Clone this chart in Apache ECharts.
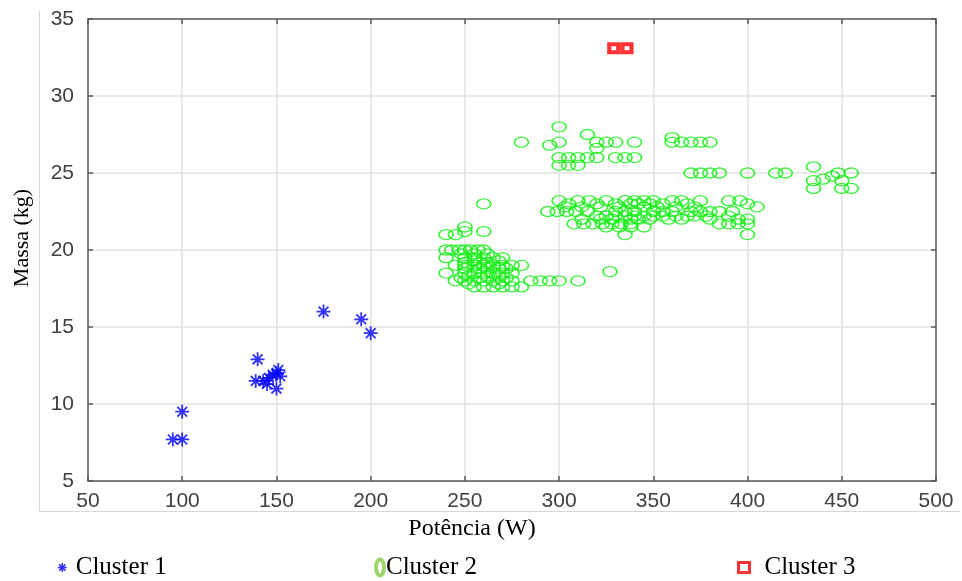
<!DOCTYPE html>
<html>
<head>
<meta charset="utf-8">
<script src="https://cdn.jsdelivr.net/npm/echarts@6/dist/echarts.min.js"></script>
<style>
  html, body { margin: 0; padding: 0; background: #fff; }
  #chart { width: 962px; height: 581px; }
</style>
</head>
<body>
<div id="chart"></div>
<script>
// Axis ticks
const xTicks = { min: 50, max: 500, interval: 50 }
const yTicks = { min: 5, max: 35, interval: 5 }

// Cluster 1 (blue asterisks)
const powerC1 = [95, 100, 100, 139, 143, 145, 146, 148, 150, 150, 151, 152, 140, 175, 195, 200]
const massC1 = [7.7, 7.7, 9.5, 11.5, 11.5, 11.3, 11.7, 11.9, 12.0, 11.0, 12.2, 11.8, 12.9, 16.0, 15.5, 14.6]

// Cluster 2 (green ellipses), [power, mass]
const cluster2Points = [
  // lower group
  [250, 21.5], [250, 21.2], [260, 21.2], [240, 21.0], [245, 21.0], [260, 23.0],
  [240, 20.0], [243, 20.0], [247, 20.0], [250, 20.0], [253, 20.0], [257, 20.0], [260, 20.0],
  [248, 19.75], [255, 19.75], [262, 19.75],
  [240, 19.5], [250, 19.5], [255, 19.5], [260, 19.5], [265, 19.5], [270, 19.5],
  [255, 19.3], [268, 19.3],
  [250, 19.2], [258, 19.2], [262, 19.2],
  [245, 19.0], [250, 19.0], [255, 19.0], [260, 19.0], [265, 19.0], [270, 19.0], [275, 19.0], [280, 19.0],
  [250, 18.8], [258, 18.8], [262, 18.8], [268, 18.8], [272, 18.8],
  [240, 18.5], [250, 18.5], [255, 18.5], [260, 18.5], [265, 18.5], [270, 18.5], [275, 18.5],
  [252, 18.3], [262, 18.3], [268, 18.3],
  [248, 18.2], [258, 18.2], [272, 18.2],
  [245, 18.0], [250, 18.0], [255, 18.0], [260, 18.0], [265, 18.0], [270, 18.0], [275, 18.0],
  [285, 18.0], [290, 18.0], [295, 18.0], [300, 18.0], [310, 18.0],
  [252, 17.8], [268, 17.8],
  [255, 17.6], [260, 17.6], [265, 17.6], [270, 17.6], [275, 17.6], [280, 17.6],
  [327, 18.6],
  // middle band
  [300, 23.2], [310, 23.2], [316, 23.2], [325, 23.2], [335, 23.2], [340, 23.2], [345, 23.2],
  [350, 23.2], [360, 23.2], [365, 23.2], [375, 23.2], [390, 23.2], [396, 23.2],
  [305, 23.0], [320, 23.0], [330, 23.0], [338, 23.0], [342, 23.0], [348, 23.0], [355, 23.0], [368, 23.0], [400, 23.0],
  [303, 22.8], [312, 22.8], [322, 22.8], [332, 22.8], [345, 22.8], [352, 22.8], [362, 22.8], [372, 22.8], [405, 22.8],
  [294, 22.5], [299, 22.5], [304, 22.5], [309, 22.5], [315, 22.5], [330, 22.5], [335, 22.5], [340, 22.5],
  [350, 22.5], [355, 22.5], [360, 22.5], [370, 22.5], [375, 22.5], [380, 22.5], [385, 22.5], [392, 22.5],
  [320, 22.2], [325, 22.2], [330, 22.2], [335, 22.2], [340, 22.2], [345, 22.2], [350, 22.2],
  [355, 22.2], [362, 22.2], [368, 22.2], [372, 22.2], [378, 22.2], [390, 22.2],
  [312, 22.0], [322, 22.0], [328, 22.0], [338, 22.0], [342, 22.0], [348, 22.0], [358, 22.0],
  [365, 22.0], [380, 22.0], [395, 22.0], [400, 22.0],
  [308, 21.7], [313, 21.7], [318, 21.7], [323, 21.7], [328, 21.7], [333, 21.7], [338, 21.7],
  [385, 21.7], [390, 21.7], [395, 21.7], [400, 21.7],
  [325, 21.5], [332, 21.5], [338, 21.5], [345, 21.5],
  [335, 21.0], [400, 21.0],
  // upper group
  [300, 28.0], [280, 27.0], [295, 26.8], [300, 27.0], [315, 27.5], [320, 27.0], [325, 27.0],
  [330, 27.0], [340, 27.0], [320, 26.6],
  [300, 26.0], [305, 26.0], [310, 26.0], [315, 26.0], [320, 26.0], [330, 26.0], [335, 26.0], [340, 26.0],
  [300, 25.5], [305, 25.5], [310, 25.5],
  [360, 27.3], [360, 27.0], [365, 27.0], [370, 27.0], [375, 27.0], [380, 27.0],
  [370, 25.0], [375, 25.0], [380, 25.0], [385, 25.0], [400, 25.0], [415, 25.0], [420, 25.0],
  [435, 25.4], [435, 24.5], [435, 24.0], [440, 24.6], [445, 24.8], [448, 25.0],
  [450, 24.5], [455, 25.0], [450, 24.0], [455, 24.0]
]

// Cluster 3 (red squares)
const powerC3 = [329, 336]
const massC3 = [33.1, 33.1]

const asterisk = 'path://M0,-1L0,1M-1,0L1,0M-0.7,-0.7L0.7,0.7M-0.7,0.7L0.7,-0.7'
const ellipse = 'path://M1,0C1,0.552,0.552,1,0,1C-0.552,1,-1,0.552,-1,0C-1,-0.552,-0.552,-1,0,-1C0.552,-1,1,-0.552,1,0Z'

const zip = (xs, ys) => xs.map((x, i) => [x, ys[i]])

const axisColor = '#5a5a5a'
const sans = '"Liberation Sans", Arial, sans-serif'
const serif = '"Liberation Serif", "Times New Roman", serif'

const chart = echarts.init(document.getElementById('chart'))

const baseX = {
  type: 'value',
  min: xTicks.min,
  max: xTicks.max,
  interval: xTicks.interval,
  axisLine: { show: true, lineStyle: { color: axisColor, width: 1.5 } },
  axisTick: { show: true, inside: true, length: 5, lineStyle: { color: axisColor, width: 1.5 } },
}
const baseY = {
  type: 'value',
  min: yTicks.min,
  max: yTicks.max,
  interval: yTicks.interval,
  axisLine: { show: true, lineStyle: { color: axisColor, width: 1.5 } },
  axisTick: { show: true, inside: true, length: 5, lineStyle: { color: axisColor, width: 1.5 } },
}

const legendText = { fontSize: 25, color: '#000', fontFamily: serif }

const option = {
  animation: false,
  backgroundColor: '#fff',
  grid: { left: 88, top: 19, right: 26, bottom: 100 },
  graphic: [
    { type: 'line', shape: { x1: 39.5, y1: 11, x2: 39.5, y2: 511.5 }, style: { stroke: '#d6d6d6', lineWidth: 1 } },
    { type: 'line', shape: { x1: 39.5, y1: 511.5, x2: 960, y2: 511.5 }, style: { stroke: '#d6d6d6', lineWidth: 1 } },
  ],
  xAxis: [
    {
      ...baseX,
      position: 'bottom',
      name: 'Potência (W)',
      nameLocation: 'middle',
      nameGap: 30,
      nameTextStyle: { fontSize: 24, color: '#000', fontFamily: serif, padding: [0, 80, 0, 0] },
      axisLabel: { fontSize: 21, color: '#404040', fontFamily: sans, margin: 10 },
      splitLine: { show: true, lineStyle: { color: '#e2e2e2', width: 1.5 } },
    },
    {
      ...baseX,
      position: 'top',
      axisLabel: { show: false },
      splitLine: { show: false },
    },
  ],
  yAxis: [
    {
      ...baseY,
      position: 'left',
      name: 'Massa (kg)',
      nameLocation: 'middle',
      nameGap: 55,
      nameTextStyle: { fontSize: 22, color: '#000', fontFamily: serif, padding: [0, 0, 0, 24] },
      axisLabel: { fontSize: 21, color: '#404040', fontFamily: sans, margin: 14 },
      splitLine: { show: true, lineStyle: { color: '#e2e2e2', width: 1.5 } },
    },
    {
      ...baseY,
      position: 'right',
      axisLabel: { show: false },
      splitLine: { show: false },
    },
  ],
  legend: [
    {
      data: ['Cluster 1'],
      left: 57, top: 555, padding: 0,
      icon: asterisk, itemWidth: 9, itemHeight: 9,
      itemStyle: { color: '#0000ff', borderColor: '#0000ff', borderWidth: 1.5 },
      textStyle: { ...legendText, padding: [0, 0, 0, 4] },
    },
    {
      data: ['Cluster 2'],
      left: 374, top: 555, padding: 0, symbolKeepAspect: false,
      icon: ellipse, itemWidth: 8, itemHeight: 16,
      itemStyle: { color: '#fff', borderColor: '#86cc48', borderWidth: 4 },
      textStyle: { ...legendText, padding: [0, 0, 0, -3] },
    },
    {
      data: ['Cluster 3'],
      left: 737, top: 555, padding: 0,
      icon: 'rect', itemWidth: 11, itemHeight: 10,
      itemStyle: { color: '#fff', borderColor: '#ff0000', borderWidth: 3 },
      textStyle: { ...legendText, padding: [0, 0, 0, 10] },
    },
  ],
  series: [
    {
      name: 'Cluster 1',
      type: 'scatter',
      data: zip(powerC1, massC1),
      symbol: asterisk,
      symbolSize: 14,
      itemStyle: { color: '#0000ff', borderColor: '#0000ff', borderWidth: 1.8 },
      emphasis: { disabled: true },
    },
    {
      name: 'Cluster 2',
      type: 'scatter',
      data: cluster2Points,
      symbol: ellipse,
      symbolSize: [14, 10],
      itemStyle: { color: 'rgba(0,0,0,0)', borderColor: '#11ee11', borderWidth: 1.5 },
      emphasis: { disabled: true },
    },
    {
      name: 'Cluster 3',
      type: 'scatter',
      data: zip(powerC3, massC3),
      symbol: 'rect',
      symbolSize: [9, 8],
      itemStyle: { color: '#fff', borderColor: '#ff0000', borderWidth: 4 },
      emphasis: { disabled: true },
    },
  ],
}

chart.setOption(option)
</script>
</body>
</html>
